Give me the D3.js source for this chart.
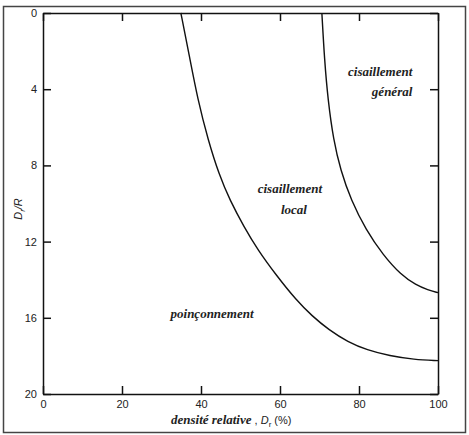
<!DOCTYPE html>
<html>
<head>
<meta charset="utf-8">
<script src="https://cdn.jsdelivr.net/npm/d3@7"></script>
<style>
	body { margin: 0; background: #fff; }
	svg { display: block; }
	.tick text { font-family: "Liberation Sans", Arial, sans-serif; font-size: 11px; fill: #222; }
	.region { font-family: "Liberation Serif", "Times New Roman", serif; font-style: italic; font-weight: bold; font-size: 13px; fill: #222; }
</style>
</head>
<body>
<div id="chart"></div>
<script>
// boundary between poinconnement and cisaillement local
var localDr = [34.9, 37.0, 39.2, 41.8, 44.6, 47.3, 50.9, 54.4, 59.0, 64.1, 68.1, 72.4, 77.2, 82.0, 87.8, 93.9, 100];
var localDepth = [0, 2.2, 4.57, 6.67, 8.5, 9.82, 11.23, 12.44, 13.75, 15.07, 15.9, 16.64, 17.27, 17.69, 18.0, 18.19, 18.25];

// boundary between cisaillement local and cisaillement general
var generalDr = [70.6, 71.27, 72.15, 73.54, 75.32, 77.97, 81.77, 86.08, 90.63, 94.43, 97.47, 100];
var generalDepth = [0, 2.47, 4.57, 6.67, 8.24, 9.82, 11.39, 12.7, 13.75, 14.28, 14.54, 14.68];

var xTicks = [0, 20, 40, 60, 80, 100];
var yTicks = [0, 4, 8, 12, 16, 20];

// region names: lines, anchor Dr, anchor depth of first line
var regionLines = [["cisaillement", "général"], ["cisaillement", "local"], ["poinçonnement"]];
var regionDr = [93.5, 62.5, 42.8];
var regionDepth = [3.3, 9.45, 16.0];
var regionAnchor = ["end", "middle", "middle"];

var width = 469, height = 435;
var margin = { top: 13, right: 31, bottom: 41, left: 43 };
var w = width - margin.left - margin.right;
var h = height - margin.top - margin.bottom;

var svg = d3.select("#chart").append("svg")
	.attr("width", width)
	.attr("height", height);

// outer frame
svg.append("rect")
	.attr("x", 3.5).attr("y", 6.5)
	.attr("width", 462).attr("height", 426)
	.attr("fill", "none")
	.attr("stroke", "#444")
	.attr("stroke-width", 1.5);

var chart = svg.append("g")
	.attr("transform", "translate(" + margin.left + "," + margin.top + ")");

var x = d3.scaleLinear().domain([0, 100]).range([0, w]);
var y = d3.scaleLinear().domain([0, 20]).range([0, h]);

// axes, ticks point inward
chart.append("g")
	.attr("class", "x axis")
	.attr("transform", "translate(0," + h + ")")
	.call(d3.axisBottom(x).tickValues(xTicks).tickSizeInner(-8).tickSizeOuter(0).tickPadding(6));

chart.append("g")
	.attr("class", "y axis")
	.call(d3.axisLeft(y).tickValues(yTicks).tickSizeInner(-8).tickSizeOuter(0).tickPadding(6));

chart.append("g")
	.attr("class", "x axis top")
	.call(d3.axisTop(x).tickValues(xTicks).tickSizeInner(-8).tickSizeOuter(0).tickFormat(""));

chart.append("g")
	.attr("class", "y axis right")
	.attr("transform", "translate(" + w + ",0)")
	.call(d3.axisRight(y).tickValues(yTicks).tickSizeInner(-8).tickSizeOuter(0).tickFormat(""));

chart.selectAll(".axis path, .axis line")
	.attr("stroke", "#111")
	.attr("stroke-width", 1.5);

// boundary curves
var line = d3.line()
	.x(function(d) { return x(d[0]); })
	.y(function(d) { return y(d[1]); })
	.curve(d3.curveBasis);

[[localDr, localDepth], [generalDr, generalDepth]].forEach(function(c) {
	chart.append("path")
		.datum(d3.zip(c[0], c[1]))
		.attr("d", line)
		.attr("fill", "none")
		.attr("stroke", "#111")
		.attr("stroke-width", 1.4);
});

// region labels
regionLines.forEach(function(lines, i) {
	var t = chart.append("text")
		.attr("class", "region")
		.attr("text-anchor", regionAnchor[i])
		.attr("x", x(regionDr[i]))
		.attr("y", y(regionDepth[i]));
	lines.forEach(function(s, j) {
		t.append("tspan")
			.attr("x", x(regionDr[i]) + (i === 1 && j === 1 ? 4 : 0))
			.attr("dy", j === 0 ? 0 : 20.5)
			.text(s);
	});
});

// y title: Dr/R
var yTitle = svg.append("text")
	.attr("transform", "translate(22,209) rotate(-90)")
	.attr("text-anchor", "middle")
	.style("font-family", "Liberation Sans, Arial, sans-serif")
	.style("font-size", "11px")
	.style("font-style", "italic")
	.style("fill", "#222");
yTitle.append("tspan").text("D");
yTitle.append("tspan").attr("dy", 3).style("font-size", "8px").text("r");
yTitle.append("tspan").attr("dy", -3).text("/R");

// x title: densite relative , Dr (%)
var xTitle = svg.append("text")
	.attr("x", 171)
	.attr("y", 424)
	.style("fill", "#222")
	.style("font-family", "Liberation Sans, Arial, sans-serif")
	.style("font-size", "11px");
xTitle.append("tspan")
	.attr("class", "region")
	.text("densité relative");
xTitle.append("tspan").text(" , ");
xTitle.append("tspan").style("font-style", "italic").text("D");
xTitle.append("tspan").attr("dy", 3).style("font-size", "8px").text("r");
xTitle.append("tspan").attr("dy", -3).text(" (%)");
</script>
</body>
</html>
